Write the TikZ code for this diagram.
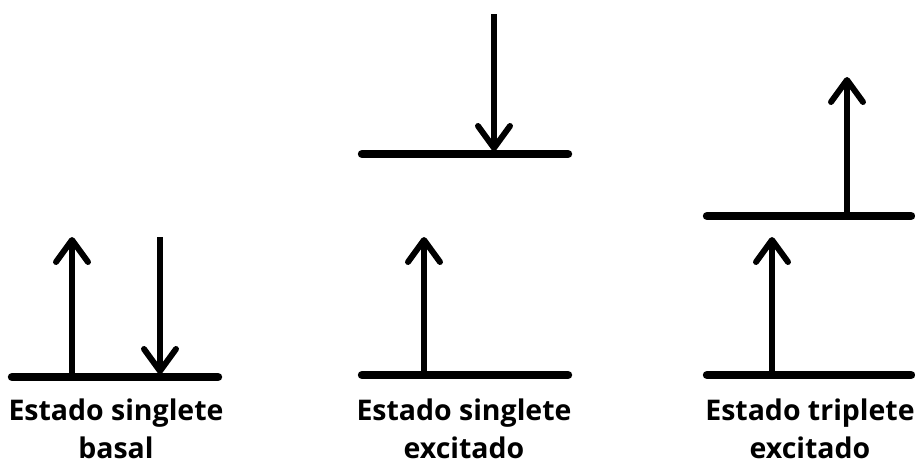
\documentclass[tikz,border=0pt]{standalone}
\usepackage{fontspec}
\setmainfont{Open Sans}
\usetikzlibrary{arrows.meta,positioning}

\begin{document}
\begin{tikzpicture}[x=0.02cm,y=-0.02cm,
  level/.style={line width=4.8pt,line cap=round},
  spin/.style={line width=3.2pt,-{Straight Barb[length=4.4mm,width=6.4mm,line width=3.4pt,round]}},
  label/.style={font=\fontsize{16.2}{21.5}\selectfont\bfseries,align=center,anchor=base}]
  \useasboundingbox (0,0) rectangle (915,463);

  % Singlete basal
  \coordinate (b1) at (12,377);  \coordinate (b2) at (218,377);
  \draw[level] (b1) -- (b2);
  \coordinate (bu0) at (72,377);  \coordinate (bu1) at (72,237);
  \coordinate (bd0) at (160,237); \coordinate (bd1) at (160,374);
  \draw[spin] (bu0) -- (bu1);
  \draw[spin] (bd0) -- (bd1);
  \node[label] (tb) at (116,458) {Estado singlete\\basal};

  % Singlete excitado
  \coordinate (e1) at (362,375);  \coordinate (e2) at (568,375);
  \coordinate (e3) at (362,154);  \coordinate (e4) at (568,154);
  \draw[level] (e1) -- (e2);
  \draw[level] (e3) -- (e4);
  \coordinate (eu0) at (424,375); \coordinate (eu1) at (424,237);
  \coordinate (ed0) at (494,14);  \coordinate (ed1) at (494,151);
  \draw[spin] (eu0) -- (eu1);
  \draw[spin] (ed0) -- (ed1);
  \node[label] (te) at (464,458) {Estado singlete\\excitado};

  % Triplete excitado
  \coordinate (t1) at (707,375);  \coordinate (t2) at (911,375);
  \coordinate (t3) at (707,216);  \coordinate (t4) at (911,216);
  \draw[level] (t1) -- (t2);
  \draw[level] (t3) -- (t4);
  \coordinate (tu0) at (772,375); \coordinate (tu1) at (772,237);
  \coordinate (tv0) at (847,216); \coordinate (tv1) at (847,77);
  \draw[spin] (tu0) -- (tu1);
  \draw[spin] (tv0) -- (tv1);
  \node[label] (tt) at (810,458) {Estado triplete\\excitado};
\end{tikzpicture}
\end{document}
